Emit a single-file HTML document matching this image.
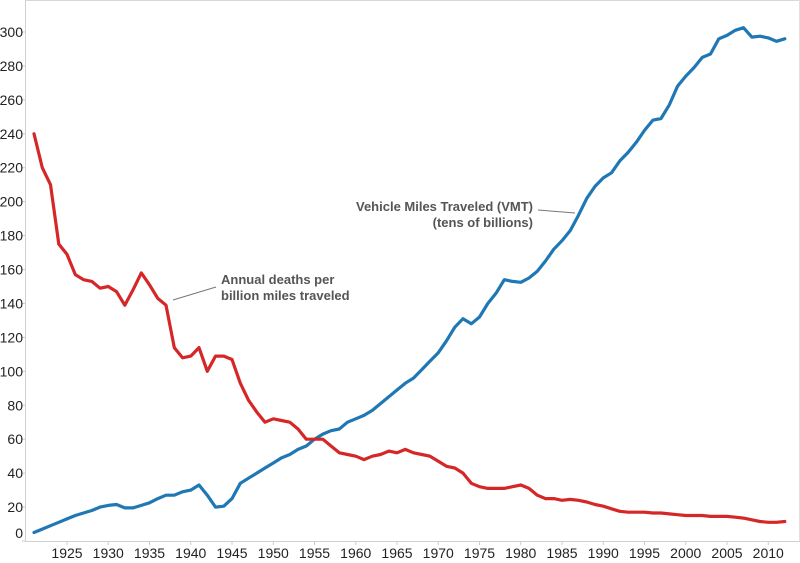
<!DOCTYPE html>
<html><head><meta charset="utf-8"><style>
body{margin:0;background:#fff;}
svg{display:block;font-family:"Liberation Sans",Arial,sans-serif;}
</style></head><body>
<svg id="s" width="800" height="563" viewBox="0 0 800 563">
<rect x="0" y="0" width="800" height="563" fill="#fff"/>
<line x1="25.5" y1="0" x2="25.5" y2="541" stroke="#d0d0d0" stroke-width="1"/>
<line x1="25" y1="0.5" x2="800" y2="0.5" stroke="#d8d8d8" stroke-width="1"/>
<line x1="25" y1="541.5" x2="800" y2="541.5" stroke="#d0d0d0" stroke-width="1"/>
<line x1="799.5" y1="0" x2="799.5" y2="541" stroke="#e0e0e0" stroke-width="1"/>
<g id="ticks"></g>
<polyline id="vmt" fill="none" stroke="#1f77b4" stroke-width="3.2" stroke-linejoin="round" stroke-linecap="round"/>
<polyline id="dth" fill="none" stroke="#d62728" stroke-width="3.2" stroke-linejoin="round" stroke-linecap="round"/>
<line x1="173" y1="300" x2="216" y2="287" stroke="#777" stroke-width="1"/>
<text x="221" y="284" font-size="13" font-weight="bold" fill="#555">Annual deaths per</text>
<text x="221" y="300" font-size="13" font-weight="bold" fill="#555">billion miles traveled</text>
<line x1="538" y1="210" x2="575" y2="213" stroke="#777" stroke-width="1"/>
<text x="533" y="211" font-size="13" font-weight="bold" fill="#555" text-anchor="end">Vehicle Miles Traveled (VMT)</text>
<text x="533" y="227" font-size="13" font-weight="bold" fill="#555" text-anchor="end">(tens of billions)</text>
</svg>
<script>
var X=function(y){return 67+(y-1925)*8.25;},Y=function(v){return 541-v*1.6967;};
var vmt=[5,7,9,11,13,15,16.5,18,20,21,21.5,19.5,19.5,21,22.5,25,27,27,29,30,33,27,20,20.5,25,34,37,40,43,46,49,51,54,56,60,63,65,66,70,72,74,77,81,85,89,93,96,101,106,111,118,126,131,128,132,140,146,154,153,152.5,155,159,165,172,177,183,192,202,209,214,217,224,229,235,242,248,249,257,268,274,279,285,287,296,298,301,302.5,297,297.5,296.5,294.5,296];
var d=[240,220,210,175,169,157,154,153,149,150,147,139,148,158,151,143,139,114,108,109,114,100,109,109,107,93,83,76,70,72,71,70,66,60,60,60,56,52,51,50,48,50,51,53,52,54,52,51,50,47,44,43,40,34,32,31,31,31,32,33,31,27,25,25,24,24.5,24,23,21.5,20.5,19,17.5,17,17,17,16.5,16.5,16,15.5,15,15,15,14.5,14.5,14.5,14,13.5,12.5,11.5,11,11,11.5];
function pts(a){return a.map(function(v,i){return X(1921+i).toFixed(1)+','+Y(v).toFixed(1)}).join(' ');}
document.getElementById('vmt').setAttribute('points',pts(vmt));
document.getElementById('dth').setAttribute('points',pts(d));
var g=document.getElementById('ticks'),h='';
for(var v=0;v<=300;v+=20){var y=Y(v);h+='<line x1="22" y1="'+y+'" x2="25" y2="'+y+'" stroke="#ccc"/>';
h+='<text x="23" y="'+(v==0?y-3:y+5)+'" font-size="14" fill="#222" text-anchor="end">'+v+'</text>';}
for(var yr=1925;yr<=2010;yr+=5){var x=X(yr);h+='<line x1="'+x+'" y1="541" x2="'+x+'" y2="545" stroke="#ccc"/>';
h+='<text x="'+x+'" y="558" font-size="14" fill="#222" text-anchor="middle">'+yr+'</text>';}
g.innerHTML=h;
</script>
</body></html>
